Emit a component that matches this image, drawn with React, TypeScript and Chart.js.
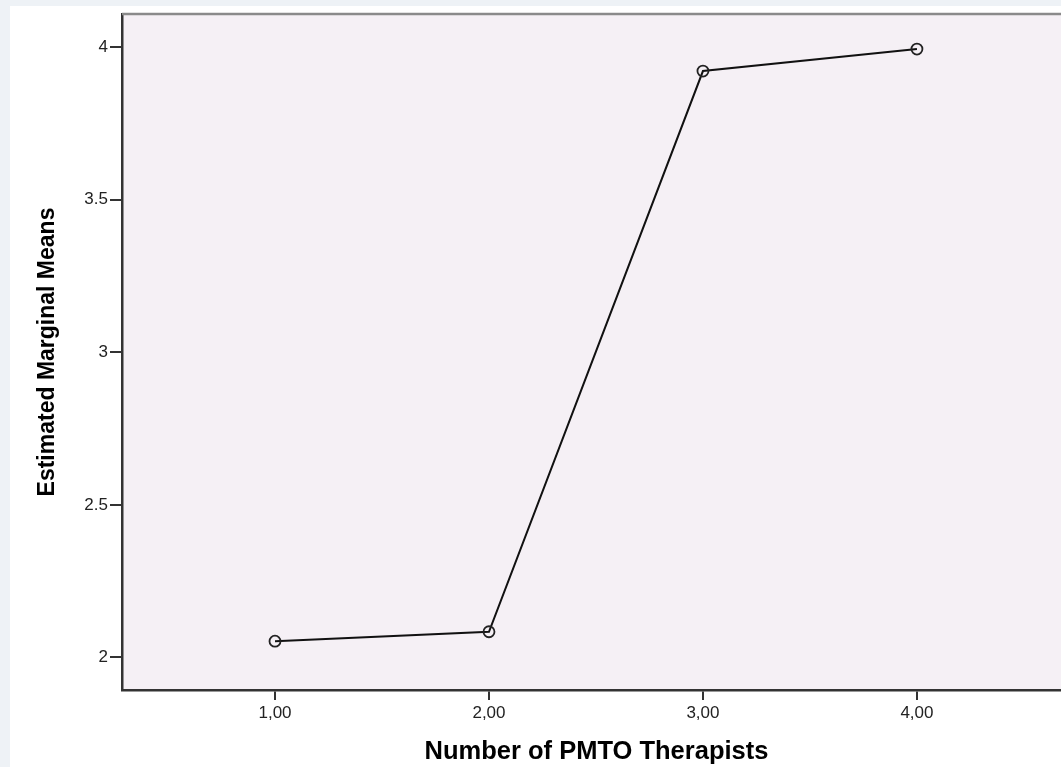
import React, { useEffect, useRef } from "react";
import { Chart, registerables } from "chart.js";

Chart.register(...registerables);

const therapists: number[] = [1, 2, 3, 4];
const means: number[] = [2.053, 2.084, 3.922, 3.994];
const xTicks: number[] = [1, 2, 3, 4];
const yTicks: number[] = [2, 2.5, 3, 3.5, 4];
const xTitle = "Number of PMTO Therapists";
const yTitle = "Estimated Marginal Means";

const plotBg = {
  id: "plotBg",
  beforeDraw(chart: any) {
    const { ctx, chartArea } = chart;
    ctx.save();
    ctx.fillStyle = "#f5f0f5";
    ctx.fillRect(chartArea.left, chartArea.top, chartArea.right - chartArea.left, chartArea.bottom - chartArea.top);
    ctx.restore();
  },
  afterDraw(chart: any) {
    const { ctx, chartArea } = chart;
    ctx.save();
    ctx.strokeStyle = "#8a8a8a";
    ctx.lineWidth = 2.5;
    ctx.beginPath();
    ctx.moveTo(chartArea.left, chartArea.top);
    ctx.lineTo(chartArea.right, chartArea.top);
    ctx.stroke();
    ctx.restore();
  },
};

export default function App() {
  const ref = useRef<HTMLCanvasElement | null>(null);
  useEffect(() => {
    if (!ref.current) return;
    const chart = new Chart(ref.current, {
      type: "line",
      data: {
        datasets: [
          {
            data: therapists.map((x, i) => ({ x, y: means[i] })),
            borderColor: "#111111",
            borderWidth: 2,
            pointRadius: 5.5,
            pointBorderWidth: 1.8,
            pointBorderColor: "#222222",
            pointBackgroundColor: "rgba(0,0,0,0)",
            tension: 0,
          },
        ],
      },
      plugins: [plotBg],
      options: {
        animation: false,
        responsive: false,
        maintainAspectRatio: false,
        layout: { autoPadding: false, padding: { top: 8, left: 0, right: 0, bottom: 0 } },
        plugins: { legend: { display: false }, tooltip: { enabled: false } },
        scales: {
          x: {
            type: "linear",
            min: 0.285,
            max: 4.72,
            afterBuildTicks: (s: any) => {
              s.ticks = xTicks.map((v) => ({ value: v }));
            },
            afterFit: (s: any) => {
              s.height = 77;
              s.paddingLeft = 0;
              s.paddingRight = 0;
            },
            grid: { display: true, drawOnChartArea: false, drawTicks: true, tickLength: 10, color: "#333333", lineWidth: 2 },
            border: { display: true, color: "#333333", width: 2.5 },
            ticks: {
              color: "#222222",
              padding: 3,
              maxRotation: 0,
              font: { family: "'Liberation Sans', Arial, sans-serif", size: 17 },
              callback: (v: any) => Number(v).toFixed(2).replace(".", ","),
            },
            title: {
              display: true,
              text: xTitle,
              color: "#000000",
              padding: { top: 0, bottom: 0 },
              font: { family: "'Liberation Sans', Arial, sans-serif", size: 25.5, weight: "bold" },
            },
          },
          y: {
            type: "linear",
            min: 1.893,
            max: 4.109,
            afterBuildTicks: (s: any) => {
              s.ticks = yTicks.map((v) => ({ value: v }));
            },
            afterFit: (s: any) => {
              s.width = 112;
              s.paddingTop = 0;
              s.paddingBottom = 0;
            },
            grid: { display: true, drawOnChartArea: false, drawTicks: true, tickLength: 12, color: "#333333", lineWidth: 2 },
            border: { display: true, color: "#333333", width: 2.5 },
            ticks: {
              color: "#222222",
              padding: 2,
              font: { family: "'Liberation Sans', Arial, sans-serif", size: 17 },
              callback: (v: any) => String(v),
            },
            title: {
              display: true,
              text: yTitle,
              color: "#000000",
              padding: { top: 23.5, bottom: 23.5 },
              font: { family: "'Liberation Sans', Arial, sans-serif", size: 23, weight: "bold" },
            },
          },
        },
      },
    });
    return () => chart.destroy();
  }, []);

  return (
    <div style={{ position: "fixed", left: 0, top: 0, width: 1061, height: 767, background: "#eef2f6", overflow: "hidden" }}>
      <div style={{ position: "absolute", left: 10, top: 6, width: 1051, height: 761, background: "#ffffff", overflow: "hidden" }}>
        <canvas ref={ref} width={1061} height={761} style={{ display: "block", width: 1061, height: 761 }} />
      </div>
    </div>
  );
}
